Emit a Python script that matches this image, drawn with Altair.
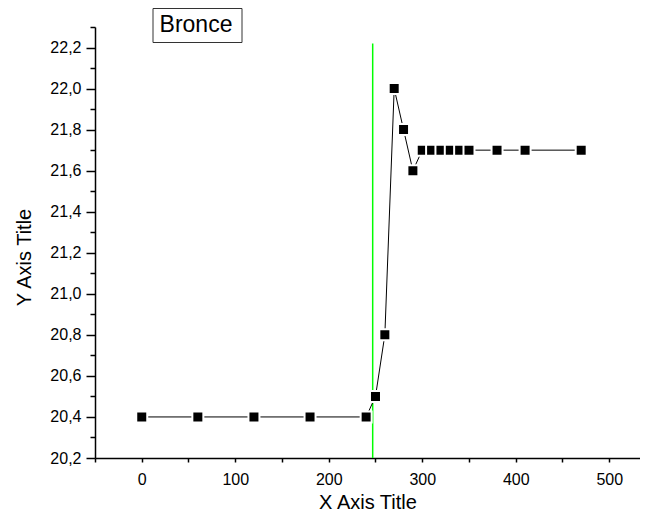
import altair as alt
import pandas as pd

# data
x_vals = [0, 60, 120, 180, 240, 250, 260, 270, 280, 290, 300, 310, 320, 330, 340, 350, 380, 410, 470]
y_vals = [20.4, 20.4, 20.4, 20.4, 20.4, 20.5, 20.8, 22.0, 21.8, 21.6, 21.7, 21.7, 21.7, 21.7, 21.7, 21.7, 21.7, 21.7, 21.7]
vline_x = 247
vline_y = [20.2, 22.22]
x_ticks = [-50, 0, 50, 100, 150, 200, 250, 300, 350, 400, 450, 500]
y_major = [20.2, 20.4, 20.6, 20.8, 21.0, 21.2, 21.4, 21.6, 21.8, 22.0, 22.2]
y_minor = [20.3, 20.5, 20.7, 20.9, 21.1, 21.3, 21.5, 21.7, 21.9, 22.1, 22.3]
title_text = "Bronce"

df = pd.DataFrame({"x": x_vals, "y": y_vals})
vdf = pd.DataFrame({"x": [vline_x], "y": [vline_y[0]], "y2": [vline_y[1]]})

FONT = "Liberation Sans"
xs = alt.Scale(domain=[-50, 532.9], nice=False, zero=False)
ys = alt.Scale(domain=[20.2, 22.3], nice=False, zero=False)

common_axis = dict(
    domainColor="black", domainWidth=1.5, tickColor="black", tickWidth=1.5,
    labelFont=FONT, labelFontSize=16, labelColor="black",
    titleFont=FONT, titleFontSize=20, titleFontWeight="normal", titleColor="black",
    grid=False,
)

x_axis = alt.Axis(
    values=x_ticks, tickSize=4, labelPadding=9, title="X Axis Title", titlePadding=5,
    labelExpr="datum.value % 100 == 0 ? format(datum.value, 'd') : ''",
    **common_axis,
)
y_axis_major = alt.Axis(
    orient="left", values=y_major, tickSize=9, labelPadding=5,
    labelExpr="replace(format(datum.value, '.1f'), '.', ',')",
    title="Y Axis Title", titlePadding=15, titleY=230,
    **common_axis,
)
y_axis_minor = alt.Axis(
    orient="left", values=y_minor, tickSize=5, labels=False, domain=False,
    title=None, tickColor="black", tickWidth=1.5, grid=False,
)

line = alt.Chart(df).mark_line(color="black", strokeWidth=1).encode(
    x=alt.X("x:Q", scale=xs, axis=x_axis),
    y=alt.Y("y:Q", scale=ys, axis=y_axis_major),
)
points = alt.Chart(df).mark_point(
    shape="square", filled=True, fill="black", size=121, stroke="white", strokeWidth=2, opacity=1
).encode(
    x=alt.X("x:Q", scale=xs),
    y=alt.Y("y:Q", scale=ys, axis=None),
)
minor = alt.Chart(df).mark_point(opacity=0).encode(
    x=alt.X("x:Q", scale=xs),
    y=alt.Y("y:Q", scale=ys, axis=y_axis_minor),
)
vline = alt.Chart(vdf).mark_rule(color="#00ff00", strokeWidth=1.5).encode(
    x=alt.X("x:Q", scale=xs),
    y=alt.Y("y:Q", scale=ys, axis=None),
    y2="y2:Q",
)
box = alt.Chart(pd.DataFrame({"t": [title_text]})).mark_rect(
    fill="white", stroke="#333333", strokeWidth=1
).encode(
    x=alt.value(58), x2=alt.value(147), y=alt.value(-18.5), y2=alt.value(15.5),
)
label = alt.Chart(pd.DataFrame({"t": [title_text]})).mark_text(
    font=FONT, fontSize=23, color="black", baseline="middle", align="center"
).encode(
    x=alt.value(101), y=alt.value(-2), text="t:N",
)

chart = alt.layer(vline, line, points, minor, box, label).resolve_axis(y="independent").properties(
    width=545, height=431,
    background="white",
    autosize=alt.AutoSizeParams(type="none"),
    padding={"left": 87, "top": 19, "right": 0, "bottom": 53},
).configure_view(strokeWidth=0, stroke="transparent")

chart.save("out.html", embed_options={"renderer": "svg", "actions": False})
